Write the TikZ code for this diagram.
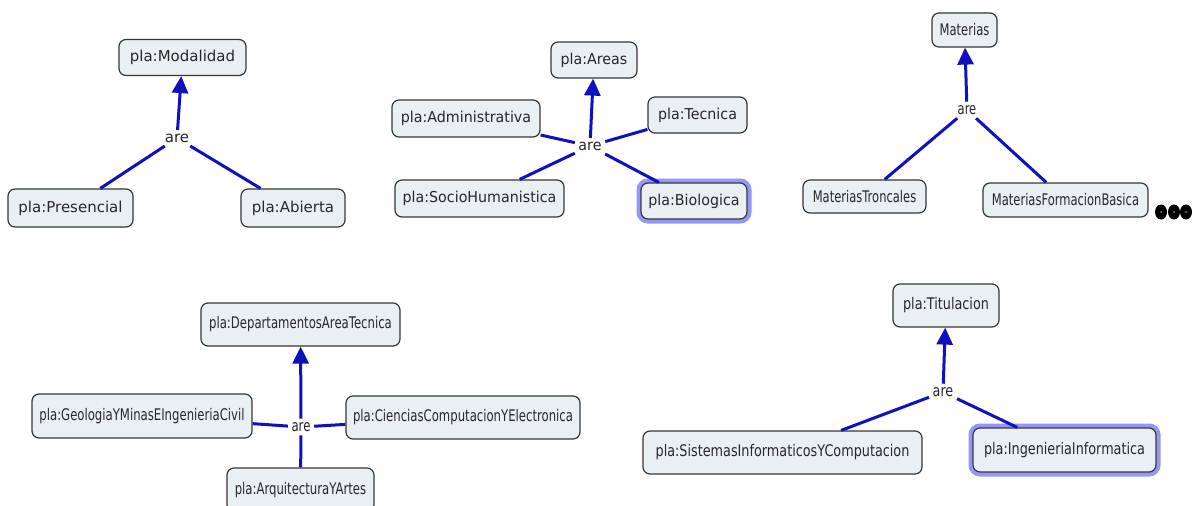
\documentclass[tikz,border=0pt]{standalone}
\usepackage{fontspec}
\usetikzlibrary{arrows.meta}
\setmainfont{DejaVu Sans}
% one face per cluster; the lower clusters are set narrower
\newfontfamily\fTL{DejaVu Sans}
\newfontfamily\fTM{DejaVu Sans}[FakeStretch=0.95]
\newfontfamily\fTR{DejaVu Sans}[FakeStretch=0.72]
\newfontfamily\fBL{DejaVu Sans}[FakeStretch=0.73]
\newfontfamily\fBR{DejaVu Sans}[FakeStretch=0.80]
\definecolor{linkblue}{RGB}{16,16,190}
\definecolor{boxfill}{RGB}{233,240,243}
\definecolor{boxline}{RGB}{55,55,55}
\definecolor{txt}{RGB}{40,40,40}
\definecolor{glow}{RGB}{150,150,248}
\tikzset{
  concept/.style={draw=boxline, line width=1.2pt, fill=boxfill, rounded corners=7pt,
    inner sep=0pt, text=txt, anchor=center},
  picked/.style={preaction={draw=glow, line width=9pt}},
  linkword/.style={inner sep=3.5pt, text=txt},
  link/.style={draw=linkblue, line width=3pt},
  isa/.style={link, -{Triangle[width=16pt,length=17pt]}},
  fa/.style={font=\fTL\fontsize{15pt}{17pt}\selectfont},
  fb/.style={font=\fTM\fontsize{15pt}{17pt}\selectfont},
  fc/.style={font=\fTR\fontsize{16pt}{17pt}\selectfont},
  fd/.style={font=\fBL\fontsize{16pt}{17pt}\selectfont},
  fe/.style={font=\fBR\fontsize{16pt}{17pt}\selectfont},
  dot/.style={fill=black, draw=none}
}
\begin{document}
\begin{tikzpicture}[x=1pt,y=-1pt]
\useasboundingbox (0,0) rectangle (1192,506);
\fill[white] (0,0) rectangle (1192,506);

% ---- Modalidad ----
\begin{scope}[fa]
\node[concept, minimum width=127pt, minimum height=36pt] (mod) at (182.5,57.5) {pla:Modalidad};
\node[concept, minimum width=125pt, minimum height=38pt] (pres) at (70.5,208) {pla:Presencial};
\node[concept, minimum width=104pt, minimum height=38pt] (abi) at (293,208) {pla:Abierta};
\node[linkword] (are1) at (177,138) {are};
\draw[isa] (are1) -- (mod);
\draw[link] (are1) -- (pres);
\draw[link] (are1) -- (abi);
\end{scope}

% ---- Areas ----
\begin{scope}[fb]
\node[concept, minimum width=86pt, minimum height=36pt] (areas) at (594,60) {pla:Areas};
\node[concept, minimum width=148pt, minimum height=37pt] (adm) at (466,118.5) {pla:Administrativa};
\node[concept, minimum width=99pt, minimum height=36pt] (tec) at (697.5,115) {pla:Tecnica};
\node[concept, minimum width=169pt, minimum height=37pt] (soc) at (479.5,198.5) {pla:SocioHumanistica};
\node[concept, picked, minimum width=106pt, minimum height=36pt] (bio) at (694,201) {pla:Biologica};
\node[linkword] (are2) at (590,146) {are};
\draw[isa] (are2) -- (areas);
\draw[link] (are2) -- (adm);
\draw[link] (are2) -- (tec);
\draw[link] (are2) -- (soc);
\draw[link] (are2) -- (bio);
\end{scope}

% ---- Materias ----
\begin{scope}[fc]
\node[concept, minimum width=65pt, minimum height=34pt] (mat) at (964.5,30) {Materias};
\node[concept, minimum width=123pt, minimum height=33pt] (mtr) at (864.5,196.5) {MateriasTroncales};
\node[concept, minimum width=165pt, minimum height=34pt] (mfb) at (1065.5,200) {MateriasFormacionBasica};
\node[linkword] (are3) at (967,110) {are};
\draw[isa] (are3) -- (mat);
\draw[link] (are3) -- (mtr);
\draw[link] (are3) -- (mfb);
\end{scope}
% continuation marks
\foreach \cx in {1161,1174,1186}{
  \fill[dot] (\cx,212) ellipse [x radius=6pt, y radius=7.5pt];
  \fill[gray] (\cx,212) circle [radius=1pt];
}

% ---- Departamentos del area tecnica ----
\begin{scope}[fd]
\node[concept, minimum width=199pt, minimum height=43pt] (dep) at (300.5,324.5) {pla:DepartamentosAreaTecnica};
\node[concept, minimum width=220pt, minimum height=44pt] (geo) at (142,416) {pla:GeologiaYMinasEIngenieriaCivil};
\node[concept, minimum width=234pt, minimum height=43pt] (cie) at (463,417.5) {pla:CienciasComputacionYElectronica};
\node[concept, minimum width=147pt, minimum height=44pt] (arq) at (300.5,490) {pla:ArquitecturaYArtes};
\node[linkword] (are4) at (301,427) {are};
\draw[isa] (are4) -- (dep);
\draw[link] (are4) -- (geo);
\draw[link] (are4) -- (cie);
\draw[link] (are4) -- (arq);
\end{scope}

% ---- Titulacion ----
\begin{scope}[fe]
\node[concept, minimum width=106pt, minimum height=43pt] (tit) at (946,305.5) {pla:Titulacion};
\node[concept, minimum width=279pt, minimum height=43pt] (sis) at (782.5,452.5) {pla:SistemasInformaticosYComputacion};
\node[concept, picked, minimum width=183pt, minimum height=44pt] (ing) at (1064.5,450) {pla:IngenieriaInformatica};
\node[linkword] (are5) at (943,392) {are};
\draw[isa] (are5) -- (tit);
\draw[link] (are5) -- (sis);
\draw[link] (are5) -- (ing);
\end{scope}
\end{tikzpicture}
\end{document}
